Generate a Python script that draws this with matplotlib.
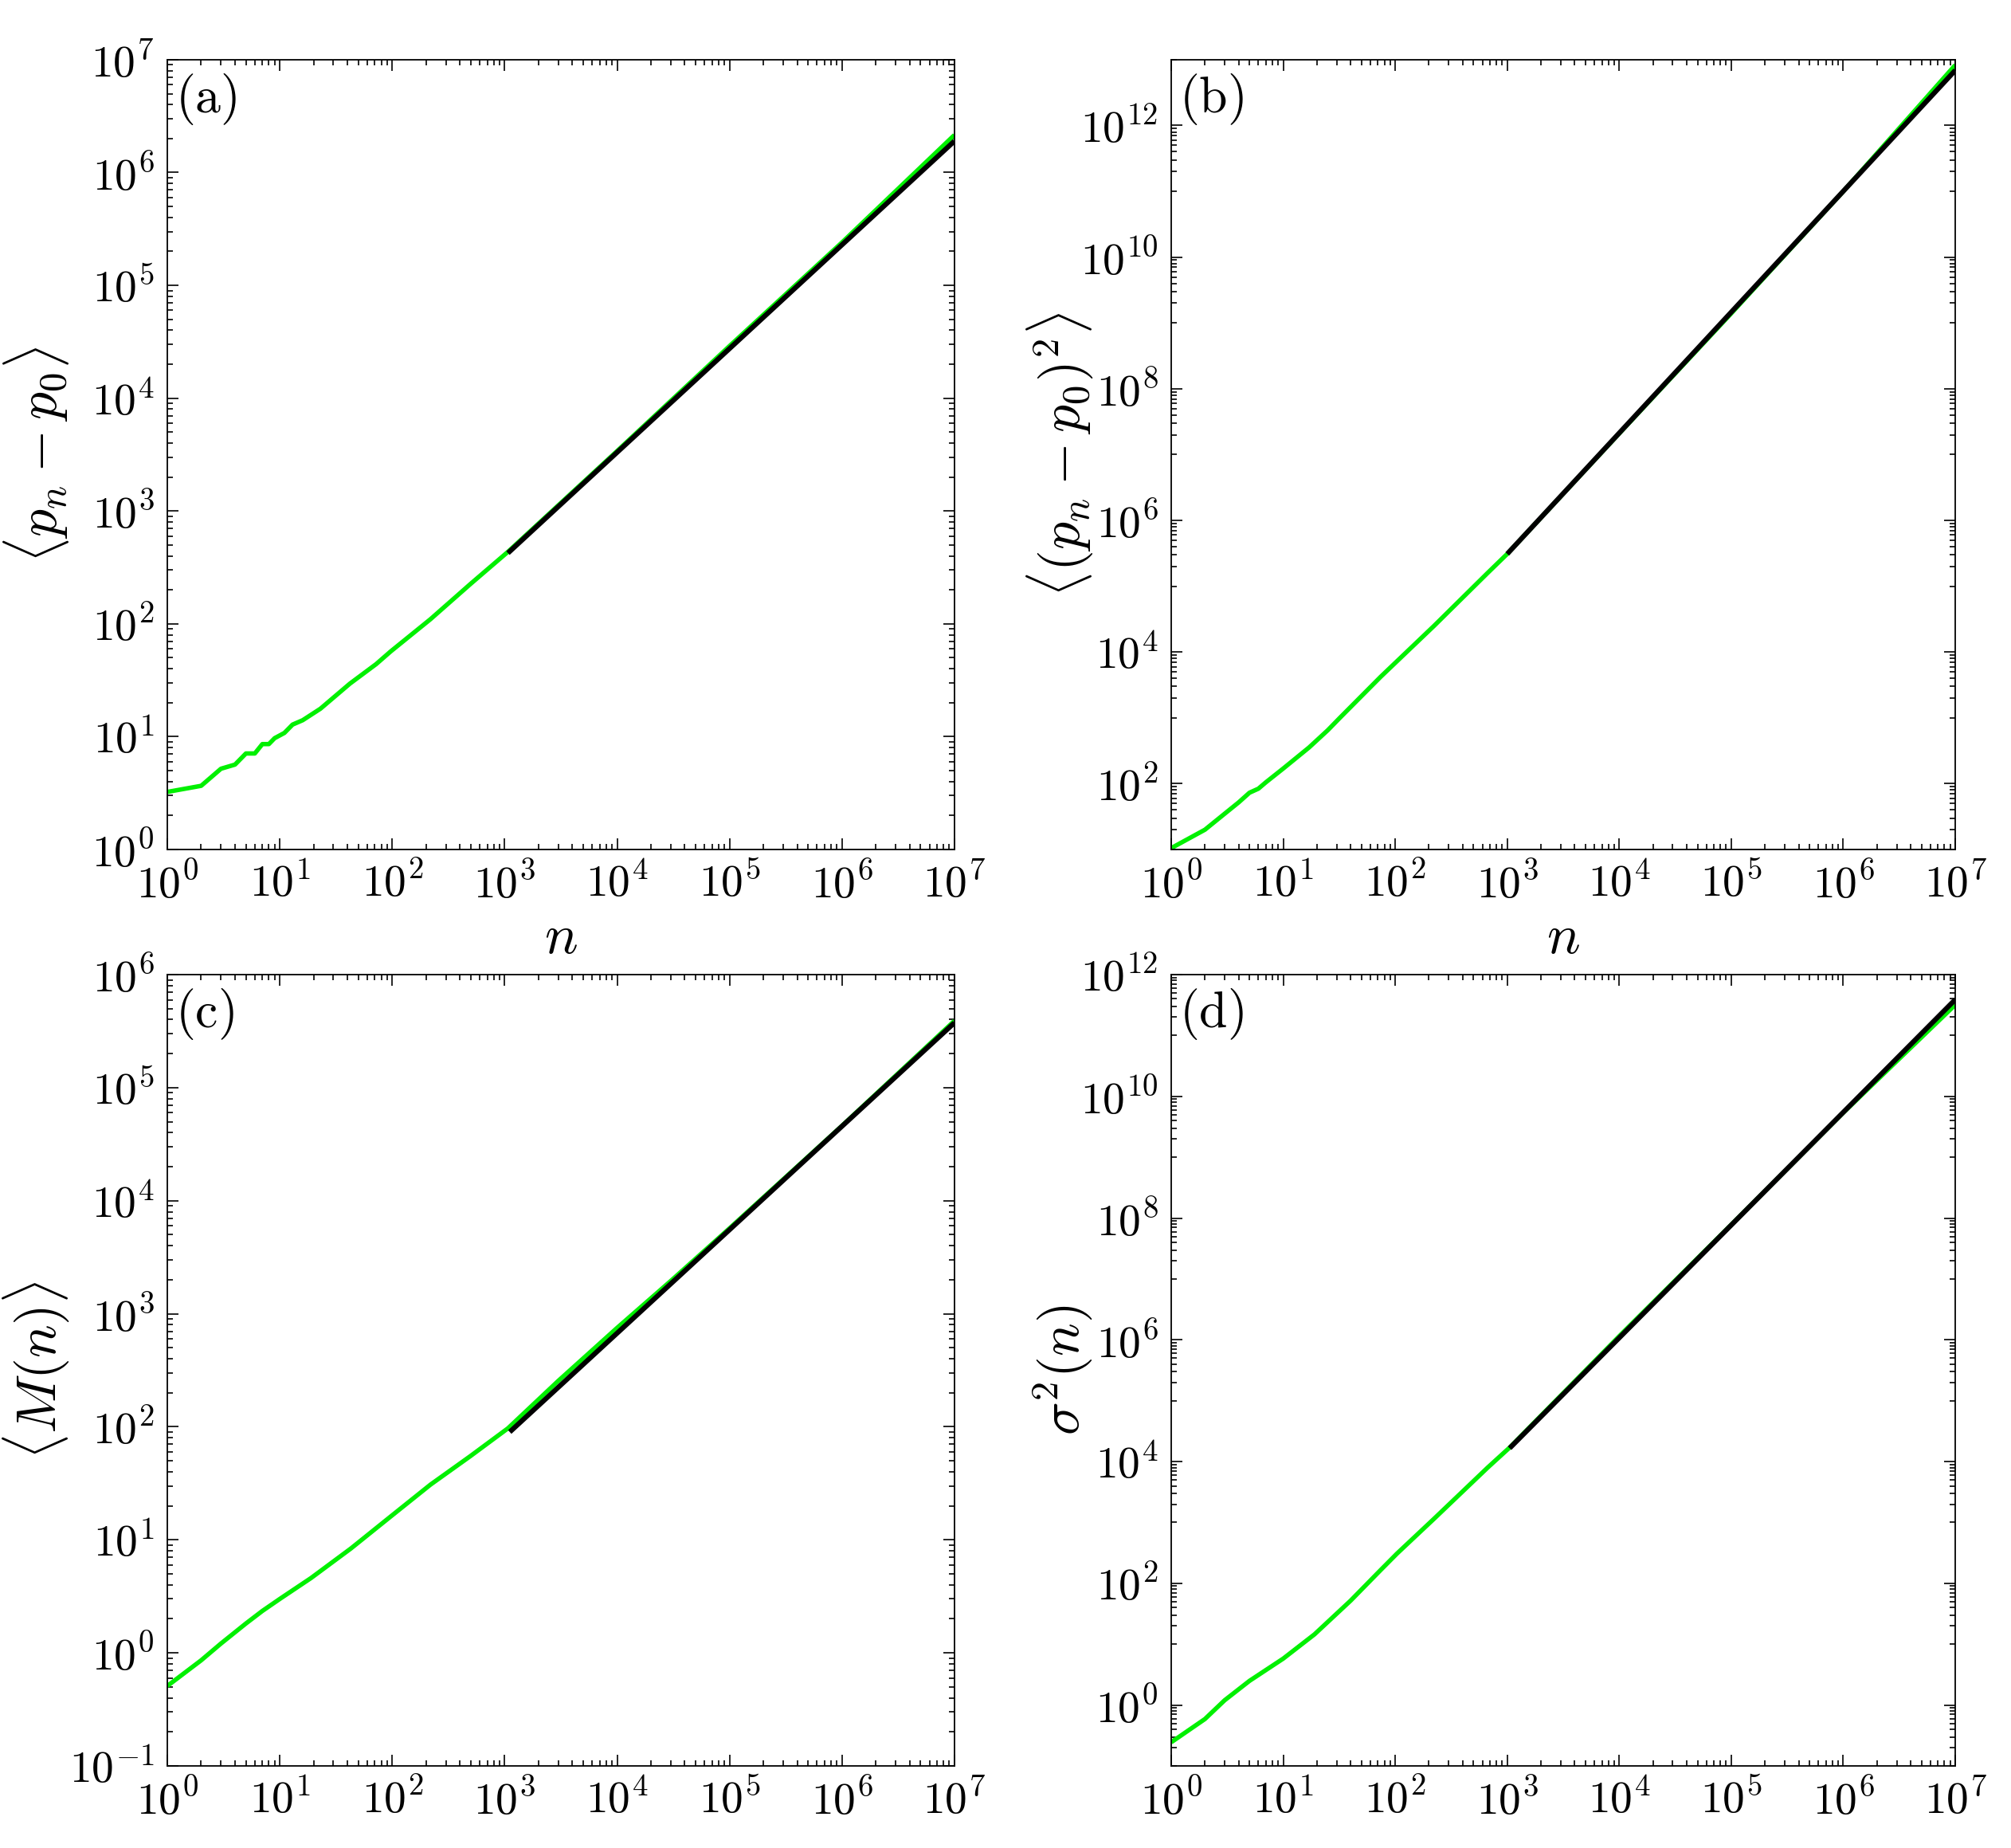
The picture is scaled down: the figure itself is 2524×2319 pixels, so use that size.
import numpy as np
import matplotlib
matplotlib.use('Agg')
import matplotlib.pyplot as plt
from matplotlib.ticker import FixedLocator, FuncFormatter, NullFormatter

plt.rcParams['mathtext.fontset'] = 'cm'
plt.rcParams['font.family'] = 'serif'
plt.rcParams['font.serif'] = ['DejaVu Serif']

# (a) <p_n - p_0>
n_a = [1, 2, 3, 4, 5, 6, 7, 8, 9, 11, 13, 16, 23, 42, 72, 97, 219, 495, 1070, 1e4, 1e5, 1e6, 1e7]
y_a = [3.24, 3.67, 5.2, 5.66, 7.1, 7.1, 8.6, 8.6, 9.7, 10.8, 12.8, 14.0, 17.7, 29.5, 44, 57, 110, 225, 435,
       3.4e3, 2.9e4, 2.4e5, 2.15e6]
fit_n_a = [1070, 1e7]
fit_a = [424, 1.9e6]

# (b) <(p_n - p_0)^2>
n_b = [1, 2, 3, 4, 5, 6, 7, 10, 17, 25, 32, 74, 222, 670, 1000, 1e4, 1e5, 1e6, 1e7]
y_b = [10.5, 20, 35, 52, 73, 84, 105, 170, 355, 650, 1000, 4200, 2.5e4, 1.6e5, 3.1e5,
       2.1e7, 1.4e9, 1.0e11, 8.3e12]
fit_n_b = [1000, 1e7]
fit_b = [3.1e5, 6.9e12]

# (c) <M(n)>
n_c = [1, 2, 3, 5, 7, 10, 19, 43, 97, 219, 495, 1070, 3000, 1e4, 3e4, 1e5, 1e6, 1e7]
y_c = [0.51, 0.86, 1.21, 1.82, 2.35, 3.0, 4.6, 8.4, 16.1, 30.8, 55, 97, 255, 750, 1.95e3, 5.7e3, 4.6e4, 3.9e5]
fit_n_c = [1110, 1e7]
fit_c = [90, 3.75e5]

# (d) sigma^2(n)
n_d = [1, 2, 3, 5, 10, 19, 40, 74, 104, 222, 670, 1050, 1e4, 1e5, 1e6, 1e7]
y_d = [0.245, 0.59, 1.2, 2.5, 5.8, 14.5, 52, 165, 310, 1150, 8.0e3, 1.7e4, 1.15e6, 7.8e7, 5.4e9, 3.2e11]
fit_n_d = [1050, 1e7]
fit_d = [1.66e4, 3.9e11]

panels = [
    (n_a, y_a, fit_n_a, fit_a, (1, 1e7), r'$\langle p_n - p_0\rangle$', r'$\mathrm{(a)}$', 1, True),
    (n_b, y_b, fit_n_b, fit_b, (10, 1e13), r'$\langle (p_n - p_0)^2\rangle$', r'$\mathrm{(b)}$', 2, True),
    (n_c, y_c, fit_n_c, fit_c, (0.1, 1e6), r'$\langle M(n)\rangle$', r'$\mathrm{(c)}$', 1, False),
    (n_d, y_d, fit_n_d, fit_d, (0.1, 1e12), r'$\sigma^2(n)$', r'$\mathrm{(d)}$', 2, False),
]
rects = [
    [0.0832, 0.5403, 0.3914, 0.4274],
    [0.5824, 0.5403, 0.3899, 0.4274],
    [0.0832, 0.0444, 0.3914, 0.4282],
    [0.5824, 0.0444, 0.3899, 0.4282],
]
ylab_x = [-0.122, -0.098, -0.122, -0.098]

fmt = FuncFormatter(lambda v, p: r'$10^{%d}$' % int(round(np.log10(v))))

fig = plt.figure(figsize=(25.24, 23.19), dpi=100)
for rect, lx, (n, y, fn, fy, ylim, ylab, tag, step, xlab) in zip(rects, ylab_x, panels):
    ax = fig.add_axes(rect)
    ax.plot(n, y, color='#00f000', lw=4, solid_capstyle='butt')
    ax.plot(fn, fy, color='black', lw=4.5, solid_capstyle='butt')
    ax.set_xscale('log')
    ax.set_yscale('log')
    ax.set_xlim(1, 1e7)
    ax.set_ylim(*ylim)

    e0 = int(np.floor(np.log10(ylim[0])))
    e1 = int(np.ceil(np.log10(ylim[1])))
    xmaj = [10.0**k for k in range(0, 8)]
    xmin = [s * 10.0**k for k in range(0, 7) for s in range(2, 10)]
    if step == 1:
        ymaj = [10.0**k for k in range(e0, e1 + 1)]
        ymin = [s * 10.0**k for k in range(e0, e1) for s in range(2, 10)]
    else:
        ymaj = [10.0**k for k in range(e0, e1 + 1) if k % 2 == 0]
        ymin = [s * 10.0**k for k in range(e0, e1 + 1) if k % 2 != 0 for s in range(1, 10)]
    ax.xaxis.set_major_locator(FixedLocator(xmaj))
    ax.xaxis.set_minor_locator(FixedLocator(xmin))
    ax.yaxis.set_major_locator(FixedLocator(ymaj))
    ax.yaxis.set_minor_locator(FixedLocator(ymin))
    ax.xaxis.set_major_formatter(fmt)
    ax.yaxis.set_major_formatter(fmt)
    ax.xaxis.set_minor_formatter(NullFormatter())
    ax.yaxis.set_minor_formatter(NullFormatter())

    ax.tick_params(which='both', direction='in', top=True, right=True, width=1.2)
    ax.tick_params(which='major', length=10, labelsize=40, pad=12)
    ax.tick_params(which='minor', length=5)
    for sp in ax.spines.values():
        sp.set_linewidth(1.3)

    ax.set_ylabel(ylab, fontsize=50)
    ax.yaxis.set_label_coords(lx, 0.5)
    if xlab:
        ax.set_xlabel(r'$n$', fontsize=50, labelpad=4)
    ax.text(0.010, 0.985, tag, transform=ax.transAxes, fontsize=46, ha='left', va='top')

fig.savefig('out.png', dpi=100)
